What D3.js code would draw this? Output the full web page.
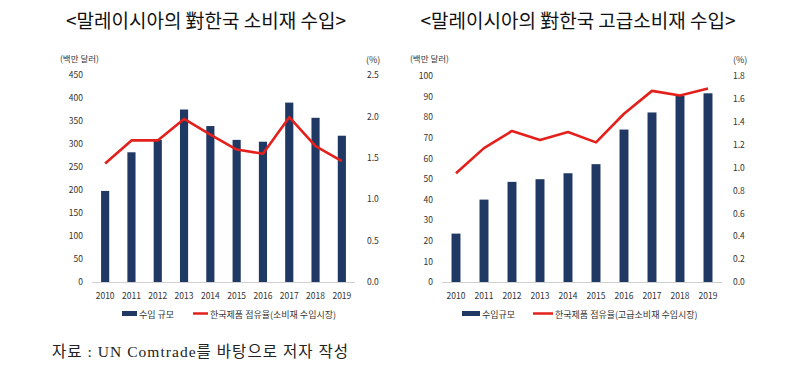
<!DOCTYPE html>
<html><head><meta charset="utf-8">
<script src="https://cdn.jsdelivr.net/npm/d3@7"></script>
<style>body{margin:0;background:#fff}svg{display:block}</style>
</head><body>
<svg id="c" width="794" height="387"></svg>
<script>
const years = ["2010","2011","2012","2013","2014","2015","2016","2017","2018","2019"];
const consumerImports = [198,282,309,375,339,309,305,390,357,318];
const consumerShare = [1.43,1.71,1.71,1.97,1.78,1.60,1.55,1.99,1.64,1.46];
const luxuryImports = [23.5,40,48.6,49.9,52.8,57.2,74,82.3,90.3,91.6];
const luxuryShare = [0.95,1.17,1.32,1.24,1.31,1.22,1.47,1.67,1.63,1.69];
const leftTicksL = [0,50,100,150,200,250,300,350,400,450];
const rightTicksL = [0,0.5,1.0,1.5,2.0,2.5];
const leftTicksR = [0,10,20,30,40,50,60,70,80,90,100];
const rightTicksR = [0,0.2,0.4,0.6,0.8,1.0,1.2,1.4,1.6,1.8];

const svg = d3.select("#c");
const navy = "#203864", red = "#e3201b";
const KR = "'Noto Sans CJK KR', 'Noto Sans', sans-serif";

function chart(o){
  const g = svg.append("g");
  const x = d3.scaleBand().domain(years).range([o.x0, o.x1]).paddingInner(o.pad).paddingOuter(o.pad/2);
  const yL = d3.scaleLinear().domain([0, o.lmax]).range([o.yb, o.yt]);
  const yR = d3.scaleLinear().domain([0, o.rmax]).range([o.yb, o.yt]);
  g.selectAll("rect.b").data(o.bars).join("rect")
    .attr("x",(d,i)=>x(years[i])).attr("width",x.bandwidth())
    .attr("y",d=>yL(d)).attr("height",d=>yL(0)-yL(d)).attr("fill",navy);
  g.append("line").attr("x1",o.x0).attr("x2",o.x1).attr("y1",o.yb+0.5).attr("y2",o.yb+0.5)
    .attr("stroke","#d0d0d0").attr("stroke-width",1);
  const ln = d3.line().x((d,i)=>x(years[i])+x.bandwidth()/2).y(d=>yR(d));
  g.append("path").datum(o.line).attr("d",ln).attr("fill","none").attr("stroke",red)
    .attr("stroke-width",2.6).attr("stroke-linejoin","round");
  const ax = d3.axisLeft(yL).tickValues(o.lticks).tickSize(0).tickPadding(0).tickFormat(d3.format("d"));
  const ga = g.append("g").attr("transform",`translate(${o.lx},0)`).call(ax);
  ga.select(".domain").remove();
  ga.selectAll("text").attr("font-family",KR).attr("font-size",8.5).attr("fill","#333");
  const ar = d3.axisRight(yR).tickValues(o.rticks).tickSize(0).tickPadding(0).tickFormat(d3.format(".1f"));
  const gr = g.append("g").attr("transform",`translate(${o.rx},0)`).call(ar);
  gr.select(".domain").remove();
  gr.selectAll("text").attr("font-family",KR).attr("font-size",8.5).attr("fill","#333");
  const axb = d3.axisBottom(x).tickSize(0).tickPadding(0);
  const gb = g.append("g").attr("transform",`translate(0,${o.yb+11})`).call(axb);
  gb.select(".domain").remove();
  gb.selectAll("text").attr("font-family",KR).attr("font-size",8.5).attr("fill","#333");
  g.append("text").attr("x",o.ux).attr("y",62).text("(백만 달러)").attr("font-family",KR).attr("font-size",8.5).attr("fill","#333");
  g.append("text").attr("x",o.px).attr("y",63).text("(%)").attr("font-family",KR).attr("font-size",9).attr("fill","#333");
  svg.append("text").attr("x",o.tx).attr("y",28).attr("text-anchor","middle").text(o.title)
    .attr("font-family",KR).attr("font-size",19).attr("fill","#111");
  g.append("rect").attr("x",o.lg[0]).attr("y",311).attr("width",o.lg[1]-o.lg[0]).attr("height",5).attr("fill",navy);
  g.append("text").attr("x",o.lg[1]+2).attr("y",317.5).text(o.l1).attr("font-family",KR).attr("font-size",9).attr("fill","#333");
  g.append("line").attr("x1",o.lg[2]).attr("x2",o.lg[3]).attr("y1",313.5).attr("y2",313.5).attr("stroke",red).attr("stroke-width",2.5);
  g.append("text").attr("x",o.lg[3]+2).attr("y",317.5).text(o.l2).attr("font-family",KR).attr("font-size",9).attr("fill","#333");
}

chart({x0:92,x1:355,pad:0.69,yb:282,yt:75,lmax:450,rmax:2.5,lticks:leftTicksL,rticks:rightTicksL,
  bars:consumerImports,line:consumerShare,lx:83,rx:367,ux:60,px:366,tx:206,
  title:"<말레이시아의 對한국 소비재 수입>",lg:[122,137,193,208],l1:"수입 규모",l2:"한국제품 점유율(소비재 수입시장)"});
chart({x0:442,x1:722,pad:0.68,yb:282,yt:76,lmax:100,rmax:1.8,lticks:leftTicksR,rticks:rightTicksR,
  bars:luxuryImports,line:luxuryShare,lx:433,rx:733,ux:410,px:733,tx:578,
  title:"<말레이시아의 對한국 고급소비재 수입>",lg:[462,480,533,553],l1:"수입규모",l2:"한국제품 점유율(고급소비재 수입시장)"});

svg.append("text").attr("x",52).attr("y",357).text("자료 : UN Comtrade를 바탕으로 저자 작성")
  .attr("font-family","'Liberation Serif','DejaVu Serif','Noto Sans CJK KR',serif").attr("font-size",15.5)
  .attr("textLength",296).attr("lengthAdjust","spacing").attr("fill","#222");
</script>
</body></html>
